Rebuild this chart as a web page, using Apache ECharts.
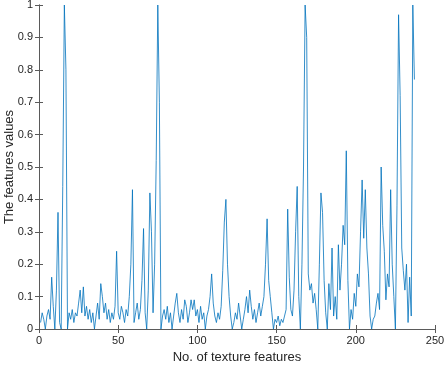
<!DOCTYPE html>
<html>
<head>
<meta charset="utf-8">
<script src="https://cdn.jsdelivr.net/npm/echarts@6/dist/echarts.min.js"></script>
<style>
html,body{margin:0;padding:0;background:#fff;}
#chart{width:447px;height:367px;}
</style>
</head>
<body>
<div id="chart"></div>
<script>
// Feature values, feature index 1..N
const featureValues = [
 0.02,0.05,0.03,0.00,0.04,0.06,0.03,0.16,0.07,0.00,
 0.12,0.36,0.02,0.00,0.44,1.00,0.80,0.00,0.05,0.03,
 0.06,0.02,0.05,0.04,0.08,0.12,0.05,0.13,0.04,0.07,
 0.03,0.06,0.02,0.05,0.00,0.04,0.08,0.03,0.14,0.10,
 0.05,0.08,0.03,0.06,0.02,0.05,0.03,0.07,0.24,0.05,
 0.03,0.07,0.05,0.02,0.06,0.04,0.10,0.20,0.43,0.02,
 0.05,0.08,0.03,0.06,0.15,0.31,0.05,0.00,0.12,0.42,
 0.30,0.05,0.20,0.52,1.00,0.70,0.00,0.04,0.06,0.03,
 0.07,0.02,0.05,0.00,0.04,0.08,0.11,0.05,0.02,0.06,
 0.03,0.09,0.07,0.02,0.05,0.09,0.06,0.09,0.04,0.06,
 0.02,0.07,0.03,0.05,0.00,0.04,0.06,0.10,0.17,0.08,
 0.04,0.02,0.05,0.03,0.07,0.18,0.33,0.40,0.20,0.10,
 0.04,0.00,0.02,0.05,0.03,0.08,0.04,0.00,0.03,0.06,
 0.10,0.05,0.12,0.07,0.03,0.06,0.02,0.05,0.08,0.04,
 0.07,0.10,0.20,0.34,0.15,0.10,0.05,0.00,0.03,0.02,
 0.04,0.01,0.03,0.02,0.04,0.06,0.37,0.16,0.06,0.04,
 0.12,0.30,0.44,0.10,0.00,0.20,0.50,1.00,0.90,0.17,
 0.12,0.14,0.08,0.11,0.06,0.00,0.20,0.42,0.36,0.15,
 0.05,0.00,0.14,0.06,0.25,0.04,0.10,0.03,0.26,0.12,
 0.20,0.32,0.26,0.55,0.15,0.00,0.06,0.03,0.11,0.07,
 0.17,0.13,0.30,0.46,0.28,0.43,0.25,0.17,0.04,0.00,
 0.03,0.04,0.08,0.11,0.06,0.50,0.32,0.24,0.09,0.17,
 0.13,0.43,0.20,0.10,0.00,0.38,0.97,0.72,0.25,0.18,
 0.12,0.20,0.02,0.16,0.04,1.00,0.77
];
const xTicks = [0, 50, 100, 150, 200, 250];
const yTicks = [0, 0.1, 0.2, 0.3, 0.4, 0.5, 0.6, 0.7, 0.8, 0.9, 1];
const xTitle = 'No. of texture features';
const yTitle = 'The features values';

const seriesData = featureValues.map((v, i) => [i + 1, v]);
const font = 'Liberation Sans, Arial, Helvetica, sans-serif';
const axisColor = '#5a5a5a';
const labelColor = '#262626';

const chart = echarts.init(document.getElementById('chart'), null, {renderer: 'canvas'});
chart.setOption({
  animation: false,
  backgroundColor: '#fff',
  grid: {left: 39, right: 12, top: 5, bottom: 38, containLabel: false, outerBoundsMode: 'none'},
  xAxis: [{
    type: 'value', min: xTicks[0], max: xTicks[xTicks.length - 1], interval: 50,
    name: xTitle, nameLocation: 'middle', nameGap: 22, nameMoveOverlap: false,
    nameTextStyle: {fontFamily: font, fontSize: 13, color: labelColor},
    axisLine: {show: true, lineStyle: {color: axisColor, width: 1}},
    axisTick: {show: true, inside: true, length: 4, lineStyle: {color: axisColor}},
    axisLabel: {fontFamily: font, fontSize: 11, color: labelColor, margin: 6},
    splitLine: {show: false}
  }, {
    type: 'value', position: 'top', min: xTicks[0], max: xTicks[xTicks.length - 1], interval: 50,
    axisLine: {show: true, lineStyle: {color: axisColor, width: 1}},
    axisTick: {show: true, inside: true, length: 4, lineStyle: {color: axisColor}},
    axisLabel: {show: false}, splitLine: {show: false}
  }],
  yAxis: [{
    type: 'value', min: yTicks[0], max: yTicks[yTicks.length - 1], interval: 0.1,
    name: yTitle, nameLocation: 'middle', nameGap: 23, nameRotate: 90, nameMoveOverlap: false,
    nameTextStyle: {fontFamily: font, fontSize: 13, color: labelColor},
    axisLine: {show: true, lineStyle: {color: axisColor, width: 1}},
    axisTick: {show: true, inside: true, length: 4, lineStyle: {color: axisColor}},
    axisLabel: {fontFamily: font, fontSize: 11, color: labelColor, margin: 6,
      formatter: v => String(Math.round(v * 10) / 10)},
    splitLine: {show: false}
  }, {
    type: 'value', position: 'right', min: yTicks[0], max: yTicks[yTicks.length - 1], interval: 0.1,
    axisLine: {show: true, lineStyle: {color: axisColor, width: 1}},
    axisTick: {show: true, inside: true, length: 4, lineStyle: {color: axisColor}},
    axisLabel: {show: false}, splitLine: {show: false}
  }],
  series: [{
    type: 'line', data: seriesData, xAxisIndex: 0, yAxisIndex: 0,
    showSymbol: false, symbol: 'none',
    lineStyle: {color: '#0072BD', width: 0.8},
    clip: true
  }]
});
</script>
</body>
</html>
